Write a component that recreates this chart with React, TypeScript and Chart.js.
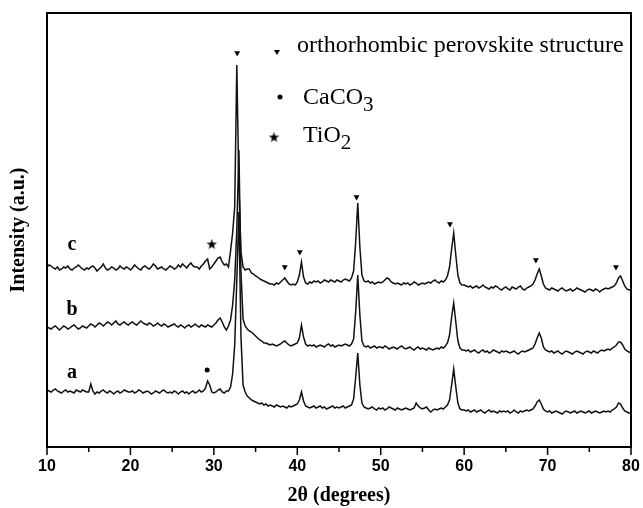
import React, { useEffect, useRef } from "react";
import { Chart, registerables } from "chart.js";

Chart.register(...registerables);

// 2θ scan: start and step (degrees)
const twoThetaStart = 10;
const twoThetaStep = 0.25;

const seriesNames = ["a", "b", "c"];

// Intensity (a.u., stacked traces), one value per step from 10° to 80°
const intensityA = [
  57,56,55,57,58,56,55,54,56,57,55,56,55,54,57,56,55,57,56,55,
  55,63,56,53,55,54,56,57,55,54,56,55,53,55,56,54,55,57,56,55,
  55,56,54,55,57,56,54,55,56,55,53,54,56,55,54,56,57,55,54,55,
  54,56,55,53,55,56,54,55,53,55,56,54,55,57,55,56,59,66,62,55,
  54,55,57,58,55,54,56,56,60,73,102,167,235,110,62,55,51,49,47,46,
  45,44,43,44,42,43,41,42,41,40,42,41,40,41,40,39,41,40,41,42,
  43,47,55,46,41,40,39,40,41,39,40,41,39,40,38,39,40,41,39,40,
  39,40,41,39,40,41,42,48,70,94,62,44,40,39,38,39,40,38,37,39,
  38,39,37,38,40,39,38,37,39,38,37,38,39,38,37,38,39,44,41,39,
  38,39,40,37,35,37,38,37,38,39,38,40,42,47,62,78,60,44,38,37,
  37,36,37,35,36,37,35,36,37,35,34,36,37,35,36,35,34,36,35,36,
  35,36,34,35,37,35,34,36,35,36,37,36,37,38,41,45,47,43,38,36,
  35,36,34,35,36,35,34,33,35,36,35,34,35,36,34,35,36,35,34,35,
  36,34,35,36,35,34,35,36,35,36,35,37,38,40,44,43,39,36,35,34,
  34,
];

const intensityB = [
  120,119,118,120,121,119,117,119,121,120,118,119,121,122,120,118,119,121,120,119,
  121,123,122,120,122,124,123,121,123,125,124,122,124,126,123,122,124,125,123,122,
  124,125,123,122,124,126,124,123,122,124,123,121,122,124,122,121,123,122,120,121,
  122,123,121,120,122,121,119,121,122,120,121,123,121,120,122,121,120,122,121,120,
  122,124,127,129,125,120,117,121,127,142,167,217,297,175,128,121,118,116,115,113,
  111,109,107,106,104,104,103,102,103,102,101,102,103,105,106,104,102,101,102,103,
  104,109,122,110,103,101,102,101,102,100,101,102,101,100,102,103,101,102,100,101,
  102,101,102,103,102,101,103,108,135,172,132,106,101,100,101,99,100,101,99,100,
  100,99,101,100,98,99,100,99,98,100,101,99,98,99,100,98,97,99,100,98,
  99,98,97,99,98,97,98,99,98,100,99,101,104,112,130,144,125,106,99,97,
  97,96,97,95,96,97,95,94,96,97,95,96,94,95,97,96,95,94,96,95,
  96,95,94,95,96,94,93,95,96,95,96,97,98,99,103,109,114,109,100,97,
  96,95,96,94,95,96,94,93,95,96,95,94,93,95,96,95,94,93,95,96,
  95,94,96,95,94,96,97,96,97,98,97,99,100,102,105,105,102,98,96,95,
  94,
];

const intensityC = [
  180,182,181,179,178,180,177,178,180,179,181,178,177,179,180,182,180,178,177,179,
  178,180,181,179,176,178,180,183,179,177,178,180,179,177,178,181,179,178,180,179,
  177,179,182,180,178,177,180,181,179,178,180,183,181,178,179,180,178,177,179,181,
  180,178,179,182,180,183,181,179,182,184,181,180,180,178,181,183,186,188,178,180,
  183,186,189,190,185,182,183,180,196,214,240,382,260,195,180,177,178,178,174,173,
  171,170,168,167,166,165,164,163,163,162,164,163,165,167,169,166,163,162,163,162,
  165,172,185,170,164,163,165,164,166,165,166,164,165,167,166,165,167,166,165,167,
  166,165,167,168,167,166,169,176,205,244,200,172,166,165,166,164,165,163,164,165,
  164,165,167,169,168,165,164,163,164,163,162,164,163,164,162,163,165,164,162,163,
  164,163,164,165,164,166,167,165,164,166,165,167,171,180,198,214,192,172,164,162,
  162,161,160,161,159,160,161,159,160,162,160,159,158,160,159,161,160,158,157,159,
  160,158,157,160,159,158,160,161,158,157,159,160,161,163,167,173,178,171,163,159,
  158,157,159,158,157,156,158,159,157,156,157,158,156,157,159,158,157,156,155,157,
  158,157,156,158,157,155,157,158,159,158,159,160,161,164,169,171,166,161,158,157,
  157,
];

// Phase markers (2θ, height a.u.)
const perovskiteMarkX = [32.8, 38.5, 40.3, 47.1, 58.3, 68.6, 78.2];
const perovskiteMarkY = [394, 180, 195, 250, 223, 187, 180];
const caco3MarkX = [29.2];
const caco3MarkY = [77];
const tio2MarkX = [29.75];
const tio2MarkY = [203];

const xMin = 10;
const xMax = 80;
const xTickStep = 5;
const yMin = 0;
const yMax = 434;

const SERIF = "'Liberation Serif', 'Times New Roman', serif";
const SANS = "'Liberation Sans', Arial, sans-serif";

function toPoints(vals: number[]) {
  return vals.map((v, i) => ({ x: twoThetaStart + i * twoThetaStep, y: v }));
}

function makeStar(size: number) {
  const c = document.createElement("canvas");
  c.width = size;
  c.height = size;
  const g = c.getContext("2d")!;
  g.fillStyle = "#000";
  g.beginPath();
  for (let i = 0; i < 10; i++) {
    const r = i % 2 === 0 ? size / 2 : size / 5;
    const a = -Math.PI / 2 + (i * Math.PI) / 5;
    const px = size / 2 + r * Math.cos(a);
    const py = size / 2 + 0.5 + r * Math.sin(a);
    if (i === 0) g.moveTo(px, py);
    else g.lineTo(px, py);
  }
  g.closePath();
  g.fill();
  return c;
}

const decorPlugin = {
  id: "decor",
  afterDraw(chart: any) {
    const { ctx, chartArea: a, scales } = chart;
    const xs = scales.x;
    const ys = scales.y;
    ctx.save();
    // frame
    ctx.strokeStyle = "#000";
    ctx.lineWidth = 2;
    ctx.lineCap = "square";
    ctx.beginPath();
    ctx.moveTo(a.left, a.top);
    ctx.lineTo(a.right, a.top);
    ctx.lineTo(a.right, a.bottom);
    ctx.lineTo(a.left, a.bottom);
    ctx.closePath();
    ctx.stroke();
    // x tick marks (major every 10, minor every 5)
    ctx.lineWidth = 1.5;
    ctx.lineCap = "butt";
    xs.ticks.forEach((t: any) => {
      const px = xs.getPixelForValue(t.value);
      const len = t.value % 10 === 0 ? 8 : 5;
      ctx.beginPath();
      ctx.moveTo(px, a.bottom);
      ctx.lineTo(px, a.bottom + len);
      ctx.stroke();
    });

    // series labels
    const labelX = 13;
    const labelY = [74, 137, 202];
    ctx.fillStyle = "#000";
    ctx.font = `bold 20px ${SERIF}`;
    ctx.textAlign = "center";
    ctx.textBaseline = "middle";
    seriesNames.forEach((n, i) => {
      ctx.fillText(n, xs.getPixelForValue(labelX), ys.getPixelForValue(labelY[i]));
    });

    // legend
    const lx = a.left;
    const ly = a.top;
    ctx.textAlign = "left";
    ctx.textBaseline = "alphabetic";
    ctx.beginPath();
    ctx.moveTo(lx + 227, ly + 37);
    ctx.lineTo(lx + 233, ly + 37);
    ctx.lineTo(lx + 230, ly + 42);
    ctx.closePath();
    ctx.fill();
    ctx.font = `24px ${SERIF}`;
    ctx.fillText("orthorhombic perovskite structure", lx + 250, ly + 39);
    ctx.beginPath();
    ctx.arc(lx + 233, ly + 84, 2.5, 0, Math.PI * 2);
    ctx.fill();
    ctx.font = `24px ${SERIF}`;
    ctx.fillText("CaCO", lx + 256, ly + 91);
    const w1 = ctx.measureText("CaCO").width;
    ctx.font = `21px ${SERIF}`;
    ctx.fillText("3", lx + 256 + w1, ly + 98);
    const star = makeStar(11);
    ctx.drawImage(star, lx + 221.5, ly + 118.5);
    ctx.font = `24px ${SERIF}`;
    ctx.fillText("TiO", lx + 256, ly + 129);
    const w2 = ctx.measureText("TiO").width;
    ctx.font = `21px ${SERIF}`;
    ctx.fillText("2", lx + 256 + w2, ly + 136);
    ctx.restore();
  },
};

export default function App() {
  const canvasRef = useRef<HTMLCanvasElement | null>(null);

  useEffect(() => {
    if (!canvasRef.current) return;
    const star = makeStar(11);
    const lineStyle = {
      borderColor: "#111",
      borderWidth: 1.5,
      pointRadius: 0,
      tension: 0,
      fill: false,
    };
    const chart = new Chart(canvasRef.current, {
      type: "line",
      data: {
        datasets: [
          { label: "c", data: toPoints(intensityC), ...lineStyle },
          { label: "b", data: toPoints(intensityB), ...lineStyle },
          { label: "a", data: toPoints(intensityA), ...lineStyle },
          {
            type: "scatter",
            label: "orthorhombic perovskite structure",
            data: perovskiteMarkX.map((x, i) => ({ x, y: perovskiteMarkY[i] })),
            pointStyle: "triangle",
            rotation: 180,
            pointRadius: 3.4,
            backgroundColor: "#000",
            borderColor: "#000",
            borderWidth: 0,
          } as any,
          {
            type: "scatter",
            label: "CaCO3",
            data: caco3MarkX.map((x, i) => ({ x, y: caco3MarkY[i] })),
            pointStyle: "circle",
            pointRadius: 2.5,
            backgroundColor: "#000",
            borderColor: "#000",
            borderWidth: 0,
          } as any,
          {
            type: "scatter",
            label: "TiO2",
            data: tio2MarkX.map((x, i) => ({ x, y: tio2MarkY[i] })),
            pointStyle: star,
            pointRadius: 5,
            backgroundColor: "#000",
            borderColor: "#000",
            borderWidth: 0,
          } as any,
        ],
      },
      options: {
        responsive: false,
        animation: false,
        events: [],
        layout: { padding: { top: 13, right: 12, left: 0, bottom: 0 } },
        plugins: {
          legend: { display: false },
          tooltip: { enabled: false },
        },
        scales: {
          x: {
            type: "linear",
            min: xMin,
            max: xMax,
            ticks: {
              stepSize: xTickStep,
              autoSkip: false,
              maxRotation: 0,
              callback: (v: any) => (Number(v) % 10 === 0 ? String(v) : ""),
              font: { family: SANS, weight: "bold", size: 16 },
              color: "#000",
              padding: 0,
            },
            grid: {
              display: true,
              drawOnChartArea: false,
              drawTicks: true,
              tickLength: 10,
              color: "rgba(0,0,0,0)",
              tickColor: "rgba(0,0,0,0)",
            },
            border: { display: false },
            title: {
              display: true,
              text: "2θ (degrees)",
              font: { family: SERIF, weight: "bold", size: 20 },
              color: "#000",
              padding: 0,
            },
            afterFit: (s: any) => {
              s.height = 61;
            },
          },
          y: {
            type: "linear",
            min: yMin,
            max: yMax,
            ticks: { display: false },
            grid: { display: false },
            border: { display: false },
            title: {
              display: true,
              text: "Intensity (a.u.)",
              font: { family: SERIF, weight: "bold", size: 20 },
              color: "#000",
              padding: { top: 7, bottom: 0 },
            },
            afterFit: (s: any) => {
              s.width = 47;
            },
          },
        },
      },
      plugins: [decorPlugin],
    } as any);
    return () => chart.destroy();
  }, []);

  return (
    <div style={{ position: "absolute", left: 0, top: 0, width: 643, height: 508, background: "#fff" }}>
      <canvas ref={canvasRef} width={643} height={508} style={{ display: "block" }} />
    </div>
  );
}
